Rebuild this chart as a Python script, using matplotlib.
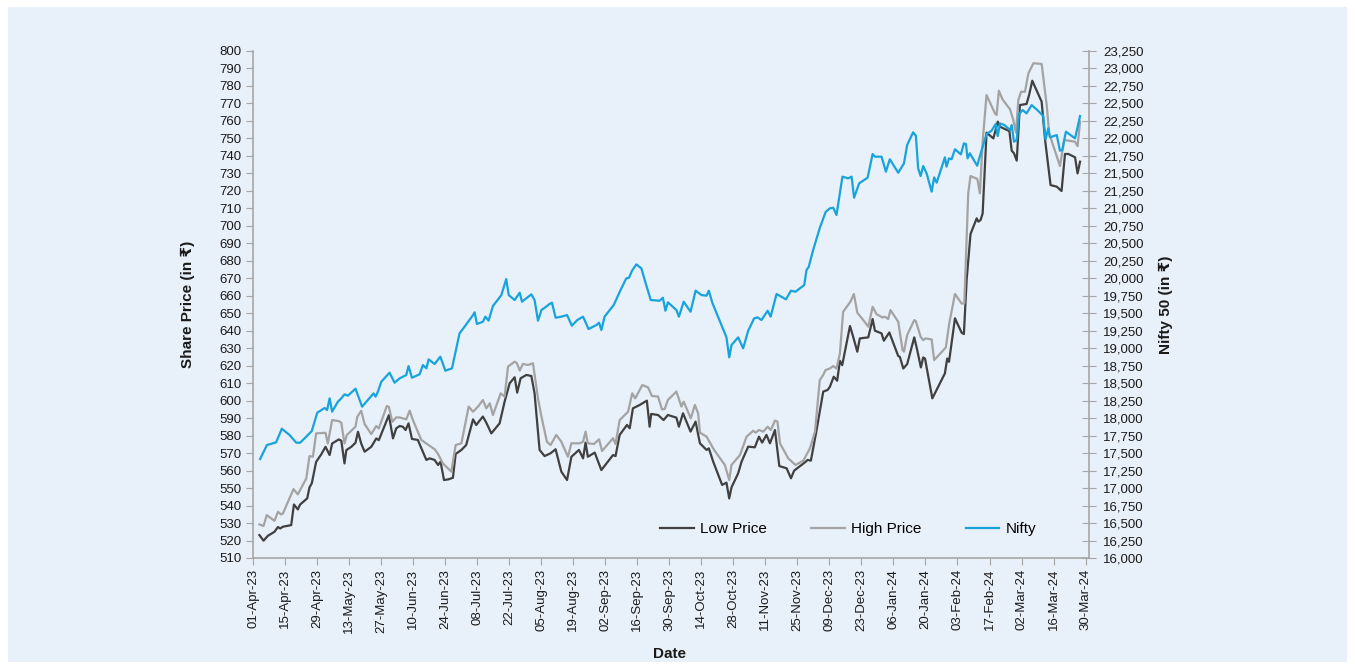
import matplotlib
matplotlib.use("Agg")
import matplotlib.pyplot as plt
import matplotlib.dates as mdates
import matplotlib.ticker as mticker
from matplotlib.patches import Rectangle
import pandas as pd

plt.rcParams['font.family'] = ['Liberation Sans', 'DejaVu Sans']

BASE_DATE = pd.Timestamp('2023-04-01')

# Low price: (days since 01-Apr-23, value)
low_days = [2.8, 4.6, 6.5, 9.4, 10.9, 11.9, 13.1, 16.7, 17.9, 19.6, 20.6, 23.7, 24.7, 25.7, 27.6, 29.8,
            31.7, 33.5, 34.6, 37.5, 38.6, 40.0, 40.8, 43.0, 44.8, 45.9, 47.3, 48.8, 51.7, 53.9, 55.0, 59.4,
            61.2, 62.6, 64.1, 65.5, 66.7, 68.0, 69.5, 72.1, 73.3, 75.8, 77.2, 79.4, 80.9, 82.0, 83.5, 85.5,
            87.4, 88.6, 91.1, 93.2, 96.2, 97.6, 100.5, 102.0, 104.2, 107.8, 110.0, 112.2, 114.4, 115.5,
            117.0, 119.5, 121.7, 123.1, 125.3, 127.5, 130.1, 132.3, 134.8, 137.3, 139.2, 142.5, 144.3,
            145.4, 146.4, 149.4, 152.3, 157.4, 158.5, 160.3, 163.5, 164.7, 166.1, 169.0, 172.2, 173.4,
            174.1, 177.1, 179.5, 181.4, 185.1, 186.2, 188.0, 191.3, 193.5, 195.4, 198.3, 199.3, 201.2,
            205.1, 207.0, 208.2, 209.2, 212.1, 213.6, 216.5, 219.4, 221.2, 222.6, 224.5, 226.0, 228.2,
            230.1, 233.3, 235.2, 236.6, 241.3, 242.5, 243.9, 246.4, 249.3, 251.2, 252.2, 253.9, 255.4,
            256.6, 257.6, 261.0, 262.4, 264.2, 265.3, 269.0, 270.9, 271.9, 274.8, 275.8, 278.2, 282.1,
            282.8, 284.3, 286.0, 289.1, 290.4, 292.0, 293.0, 293.8, 297.0, 302.5, 303.5, 304.3, 306.9,
            309.8, 310.8, 312.0, 313.7, 316.4, 317.1, 318.1, 319.0, 320.7, 323.7, 325.6, 326.6, 328.0,
            330.7, 331.7, 332.7, 333.9, 335.3, 338.2, 339.3, 340.7, 344.8, 346.3, 348.7, 351.4, 353.5,
            355.0, 356.5, 359.4, 360.5, 361.6]
low_price = [523.1, 519.9, 522.7, 525.0, 527.7, 526.9, 527.9, 528.8, 540.6, 537.8, 540.6, 544.1, 550.4,
             552.7, 565.0, 569.2, 573.6, 568.9, 575.5, 577.8, 577.1, 564.1, 571.7, 573.6, 575.9, 582.2,
             575.5, 570.8, 573.6, 578.4, 577.4, 591.7, 578.4, 584.1, 585.5, 585.1, 583.2, 587.0, 578.1,
             577.5, 573.7, 566.1, 567.0, 566.1, 563.2, 565.1, 554.6, 555.0, 555.9, 569.5, 571.8, 574.6,
             589.3, 586.1, 590.9, 587.4, 581.3, 587.0, 599.4, 609.9, 613.4, 604.6, 612.8, 614.7, 614.1,
             604.2, 571.8, 568.3, 569.9, 572.2, 559.4, 554.6, 567.9, 571.8, 567.0, 576.0, 567.9, 570.3,
             560.3, 568.9, 568.3, 580.4, 586.1, 584.2, 595.6, 597.5, 600.0, 585.1, 592.4, 591.8, 588.9,
             591.8, 590.3, 585.1, 592.8, 582.3, 588.0, 575.6, 571.8, 572.7, 565.1, 551.8, 553.1, 544.1,
             550.4, 558.4, 565.1, 573.7, 573.3, 579.4, 576.0, 580.4, 575.6, 583.2, 562.6, 561.3, 555.6,
             560.0, 564.7, 566.1, 565.7, 583.2, 605.2, 606.1, 607.9, 613.7, 611.4, 622.8, 620.3, 642.7,
             636.5, 628.0, 635.6, 636.2, 646.7, 640.0, 638.5, 634.3, 639.0, 625.5, 625.1, 618.4, 620.9,
             636.2, 628.9, 619.0, 624.7, 624.1, 601.3, 615.6, 624.1, 622.2, 647.1, 638.9, 638.1, 669.0,
             695.3, 704.3, 702.4, 703.3, 707.1, 753.3, 750.0, 759.6, 756.7, 755.8, 754.2, 743.0, 741.5,
             737.3, 769.1, 769.7, 774.8, 783.0, 771.0, 749.1, 723.3, 722.4, 719.9, 741.1, 741.1, 739.2,
             730.0, 736.7]

high_days = [2.8, 4.6, 6.0, 9.4, 10.9, 12.3, 13.1, 17.7, 19.6, 23.3, 24.7, 26.2, 27.6, 31.7, 32.7, 34.6,
             37.5, 38.6, 40.0, 41.0, 44.8, 45.6, 47.3, 48.8, 51.7, 53.9, 55.0, 58.5, 59.4, 60.9, 62.6, 64.1,
             67.0, 68.5, 69.9, 73.6, 79.4, 80.9, 83.0, 86.7, 88.6, 91.1, 94.3, 96.2, 98.4, 100.5, 102.0,
             103.5, 104.9, 108.3, 110.0, 111.5, 114.4, 115.4, 116.6, 118.0, 120.2, 122.4, 124.6, 126.1,
             128.5, 130.1, 132.6, 134.8, 137.7, 139.2, 142.8, 144.3, 145.4, 146.4, 149.1, 151.3, 152.6,
             157.4, 158.5, 160.3, 164.0, 165.8, 167.1, 170.2, 172.7, 174.4, 177.1, 178.8, 180.0, 181.4,
             185.1, 187.3, 188.3, 191.4, 193.2, 194.6, 195.4, 198.3, 201.6, 206.3, 208.2, 209.2, 212.9,
             215.8, 218.7, 219.7, 221.2, 223.1, 225.0, 226.4, 228.2, 229.3, 230.4, 234.0, 237.2, 240.6,
             243.5, 245.7, 247.8, 249.3, 250.3, 252.2, 253.7, 255.1, 256.6, 258.0, 261.2, 262.7, 264.2,
             266.8, 269.0, 270.9, 272.6, 275.2, 276.3, 277.7, 278.7, 282.1, 284.0, 284.6, 286.0, 289.1,
             289.8, 291.9, 293.0, 294.0, 296.7, 297.8, 302.9, 304.4, 306.9, 309.8, 311.0, 312.7, 313.7,
             316.7, 317.8, 319.0, 320.7, 324.4, 325.1, 326.1, 327.7, 331.0, 332.4, 333.6, 334.6, 335.8,
             337.5, 339.0, 341.2, 344.8, 347.0, 348.1, 352.8, 354.7, 359.4, 360.5, 361.6]
high_price = [529.2, 528.3, 534.5, 531.3, 536.4, 534.9, 535.5, 549.4, 546.4, 555.5, 568.3, 567.9, 581.3,
              581.6, 575.5, 588.9, 588.3, 587.4, 575.5, 580.3, 585.1, 590.8, 594.2, 586.6, 580.9, 585.5,
              584.1, 596.9, 596.5, 587.9, 590.4, 590.4, 589.3, 594.3, 588.9, 577.5, 572.2, 569.5, 564.1,
              559.4, 574.6, 575.6, 596.6, 593.7, 596.6, 600.4, 595.6, 598.5, 591.8, 604.2, 602.3, 619.5,
              622.3, 621.4, 617.2, 621.0, 620.4, 621.4, 601.3, 590.9, 576.5, 574.6, 580.4, 576.5, 567.9,
              575.6, 575.6, 576.5, 582.3, 575.6, 575.2, 577.9, 571.2, 578.5, 575.2, 588.9, 593.7, 604.2,
              601.3, 608.9, 607.6, 602.7, 602.3, 595.0, 595.2, 600.4, 605.2, 596.6, 599.4, 589.9, 597.5,
              592.8, 581.7, 579.4, 571.8, 563.2, 554.6, 563.2, 568.9, 579.4, 582.8, 581.7, 583.2, 582.3,
              585.1, 583.2, 588.6, 588.0, 575.6, 567.0, 563.2, 565.7, 572.7, 582.3, 611.8, 614.7, 617.5,
              618.4, 619.8, 618.4, 627.0, 650.8, 656.6, 661.0, 650.3, 646.1, 642.3, 653.7, 649.5, 647.6,
              648.0, 646.7, 651.8, 645.1, 628.9, 628.0, 637.5, 646.1, 645.5, 636.5, 634.6, 635.6, 635.0,
              623.2, 630.4, 644.2, 661.0, 655.6, 655.6, 718.6, 728.5, 726.8, 718.6, 748.1, 774.8, 764.3,
              763.4, 777.3, 772.3, 766.6, 760.5, 753.3, 772.0, 776.7, 776.7, 787.2, 793.0, 792.6, 769.1,
              752.9, 734.2, 749.1, 748.1, 745.6, 759.6]

nifty_days = [3.1, 6.1, 10.1, 12.6, 16.0, 18.9, 20.6, 23.3, 25.7, 28.1, 31.3, 32.4, 33.5, 34.6, 37.1,
              38.6, 40.0, 41.5, 44.8, 47.7, 50.2, 52.7, 53.6, 54.6, 56.1, 59.7, 61.9, 64.1, 67.0, 68.0,
              69.5, 72.8, 74.3, 75.8, 76.8, 79.4, 81.9, 84.1, 87.0, 90.3, 92.5, 96.2, 96.9, 97.9, 100.5,
              101.6, 103.0, 104.9, 108.6, 110.7, 111.8, 114.4, 116.6, 117.6, 121.7, 123.1, 124.6, 126.1,
              128.2, 129.4, 130.7, 132.3, 134.8, 137.3, 139.4, 141.8, 144.3, 146.7, 150.1, 151.3, 152.3,
              153.7, 157.7, 160.7, 163.2, 164.4, 165.7, 167.6, 169.8, 171.7, 173.9, 177.8, 179.2, 180.3,
              181.4, 185.1, 186.2, 188.3, 191.3, 193.5, 196.1, 198.3, 199.3, 200.8, 207.0, 208.2, 209.2,
              212.1, 214.3, 216.5, 219.1, 220.6, 222.3, 225.0, 226.3, 228.9, 233.0, 235.2, 237.2, 241.0,
              242.0, 243.0, 244.9, 247.8, 250.4, 252.2, 253.7, 255.1, 257.7, 260.2, 261.7, 262.8, 265.0,
              268.7, 270.9, 271.9, 274.8, 276.7, 278.4, 282.1, 284.6, 286.0, 288.6, 289.8, 290.8, 291.9,
              293.0, 294.5, 296.7, 297.8, 298.9, 302.5, 303.2, 304.3, 305.4, 306.9, 309.5, 310.8, 311.7,
              312.4, 313.4, 316.6, 318.6, 320.7, 322.9, 324.7, 325.6, 326.6, 328.5, 331.0, 331.7, 332.7,
              333.9, 334.9, 336.5, 338.2, 340.4, 342.9, 345.5, 346.5, 347.7, 348.4, 351.4, 352.8, 353.8,
              355.4, 359.4, 361.6]
nifty = [17415, 17615, 17654, 17849, 17758, 17649, 17649, 17735, 17816, 18078, 18145, 18116, 18283, 18092,
         18235, 18283, 18340, 18321, 18421, 18164, 18259, 18354, 18307, 18378, 18521, 18650, 18507, 18569,
         18616, 18745, 18578, 18626, 18759, 18712, 18840, 18774, 18879, 18678, 18712, 19212, 19308, 19474,
         19513, 19346, 19379, 19451, 19394, 19603, 19760, 19989, 19760, 19689, 19794, 19665, 19770, 19689,
         19393, 19546, 19594, 19627, 19651, 19436, 19451, 19474, 19322, 19403, 19451, 19274, 19331, 19365,
         19260, 19451, 19617, 19832, 19999, 20008, 20108, 20199, 20142, 19927, 19689, 19679, 19722, 19536,
         19656, 19546, 19451, 19665, 19522, 19822, 19760, 19751, 19822, 19651, 19155, 18869, 19045, 19155,
         18998, 19250, 19427, 19441, 19403, 19536, 19451, 19775, 19699, 19822, 19808, 19903, 20118, 20166,
         20404, 20720, 20950, 21000, 21009, 20904, 21453, 21429, 21453, 21152, 21357, 21438, 21777, 21739,
         21739, 21524, 21701, 21510, 21643, 21906, 22087, 22039, 21572, 21462, 21605, 21500, 21238, 21443,
         21367, 21729, 21596, 21715, 21701, 21845, 21772, 21929, 21920, 21715, 21787, 21610, 21834, 22063,
         22110, 22206, 22034, 22215, 22191, 22120, 22191, 21953, 21977, 22349, 22406, 22358, 22477, 22406,
         22320, 21986, 22144, 22015, 22048, 21824, 21834, 22096, 22001, 22320]

left_ticks = list(range(510, 801, 10))
right_ticks = list(range(16000, 23251, 250))
tick_start, tick_end = '2023-04-01', '2024-03-30'

LOW_C, HIGH_C, NIFTY_C = '#404040', '#a3a3a3', '#17a3dc'
BG = '#e8f0fa'
SPINE = '#a6a6a6'


def to_dates(days):
    return BASE_DATE + pd.to_timedelta(days, unit='D')


fig = plt.figure(figsize=(13.55, 6.69), dpi=100, facecolor='white')
fig.patches.append(Rectangle((8 / 1355, 7 / 669), 1339 / 1355, 655 / 669, transform=fig.transFigure,
                             facecolor=BG, edgecolor='none', zorder=-10))
ax = fig.add_axes([253 / 1355, 1 - 558 / 669, 836 / 1355, 507 / 669])
ax.set_facecolor(BG)
ax.patch.set_alpha(0)
ax2 = ax.twinx()
ax2.patch.set_alpha(0)

l1, = ax.plot(to_dates(low_days), low_price, color=LOW_C, lw=1.6, label='Low Price')
l2, = ax.plot(to_dates(high_days), high_price, color=HIGH_C, lw=1.6, label='High Price')
l3, = ax2.plot(to_dates(nifty_days), nifty, color=NIFTY_C, lw=1.6, label='Nifty')

ax.set_ylim(510, 800)
ax2.set_ylim(16000, 23250)
ax.set_yticks(left_ticks)
ax2.set_yticks(right_ticks)
ax2.yaxis.set_major_formatter(mticker.FuncFormatter(lambda v, p: f'{int(v):,}'))

ax.set_xlim(BASE_DATE, BASE_DATE + pd.Timedelta(days=365.5))
xt = pd.date_range(tick_start, tick_end, freq='14D')
ax.set_xticks(xt)
ax.xaxis.set_major_formatter(mdates.DateFormatter('%d-%b-%y'))
for lab in ax.get_xticklabels():
    lab.set_rotation(90)

for a in (ax, ax2):
    a.spines['top'].set_visible(False)
    for s in a.spines.values():
        s.set_color(SPINE)
        s.set_linewidth(1.2)
ax.spines['right'].set_visible(False)
ax2.spines['left'].set_visible(False)
ax2.spines['bottom'].set_visible(False)

ax.tick_params(axis='y', direction='out', length=5, color=SPINE, labelsize=9.5, labelcolor='#1a1a1a', pad=3)
ax.tick_params(axis='x', direction='out', length=5, color=SPINE, labelsize=9.5, labelcolor='#1a1a1a', pad=3)
ax2.tick_params(axis='y', direction='inout', length=10, color=SPINE, labelsize=9.5, labelcolor='#1a1a1a', pad=5)

ax.set_ylabel('Share Price (in ₹)', fontsize=11, fontweight='bold', color='#1a1a1a')
ax.yaxis.set_label_coords(-0.0695, 0.5)
ax2.set_ylabel('Nifty 50 (in ₹)', fontsize=11, fontweight='bold', color='#1a1a1a', rotation=90)
ax2.yaxis.set_label_coords(1.084, 0.5)
ax.set_xlabel('Date', fontsize=11, fontweight='bold', color='#1a1a1a')
ax.xaxis.set_label_coords(0.4988, -0.1765)

ax2.legend(handles=[l1, l2, l3], loc='center', bbox_to_anchor=(0.712, 0.057), ncol=3, frameon=False,
           fontsize=11, handlelength=2.2, handletextpad=0.4, columnspacing=2.9)

fig.savefig('out.png', dpi=100, facecolor='white')
